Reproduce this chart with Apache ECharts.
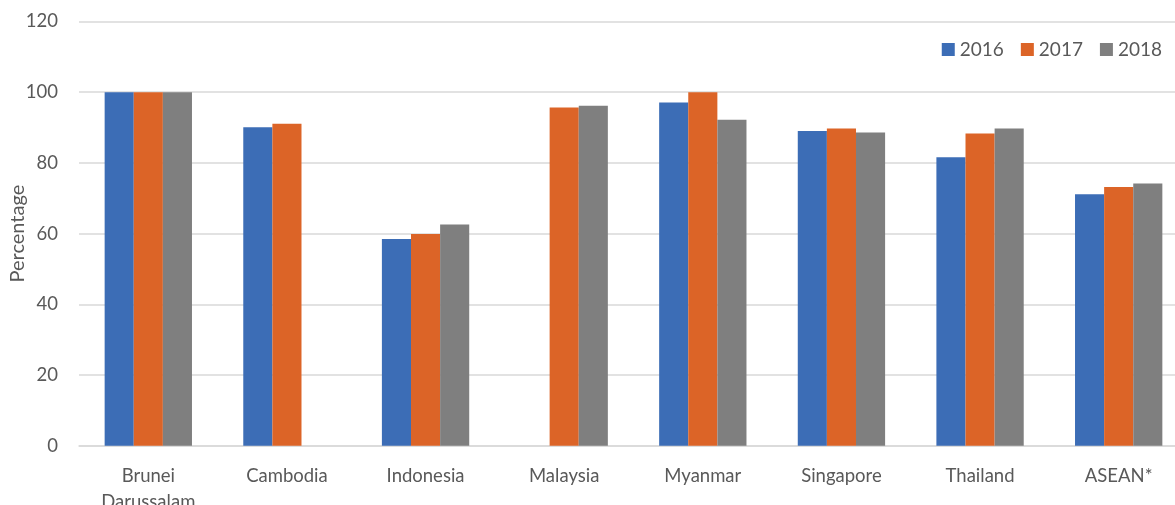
<!DOCTYPE html>
<html>
<head>
<meta charset="utf-8">
<script src="https://cdn.jsdelivr.net/npm/echarts@6/dist/echarts.min.js"></script>
<style>
  html, body { margin: 0; padding: 0; background: #fff; }
  #chart { width: 1175px; height: 505px; }
</style>
</head>
<body>
<div id="chart"></div>
<script>
// data
const countries = ['Brunei\nDarussalam', 'Cambodia', 'Indonesia', 'Malaysia', 'Myanmar', 'Singapore', 'Thailand', 'ASEAN*'];
const years = ['2016', '2017', '2018'];
const v2016 = [100, 90.1, 58.5, null, 97.1, 89.0, 81.6, 71.1];
const v2017 = [100, 91.1, 59.9, 95.7, 100, 89.7, 88.3, 73.2];
const v2018 = [100, null, 62.6, 96.2, 92.2, 88.6, 89.7, 74.2];
const yTicks = [0, 20, 40, 60, 80, 100, 120];

const colors = ['#3C6DB6', '#DC6427', '#7F7F7F'];
const textColor = '#595959';
const font = 'Lato, "Open Sans", sans-serif';

const chart = echarts.init(document.getElementById('chart'));

const seriesData = [v2016, v2017, v2018];

chart.setOption({
  animation: false,
  textStyle: { fontFamily: font },
  legend: {
    data: years,
    right: 8,
    top: 35,
    itemWidth: 13,
    itemHeight: 13,
    itemGap: 17,
    icon: 'rect',
    textStyle: { color: textColor, fontSize: 19, fontFamily: font }
  },
  grid: {
    left: 79,
    top: 21.5,
    width: 1109,
    bottom: 59.3,
    containLabel: false,
    outerBoundsMode: 'none'
  },
  xAxis: {
    type: 'category',
    data: countries,
    axisTick: { show: false },
    axisLine: { lineStyle: { color: '#D9D9D9', width: 1.5 } },
    axisLabel: {
      color: textColor,
      fontSize: 18.5,
      margin: 17,
      lineHeight: 26,
      fontFamily: font
    }
  },
  yAxis: {
    type: 'value',
    min: yTicks[0],
    max: yTicks[yTicks.length - 1],
    interval: 20,
    name: 'Percentage',
    nameLocation: 'middle',
    nameGap: 51,
    nameMoveOverlap: false,
    nameTextStyle: { color: textColor, fontSize: 20, fontFamily: font },
    axisLine: { show: false },
    axisTick: { show: false },
    axisLabel: { color: textColor, fontSize: 18.5, margin: 21, fontFamily: font },
    splitLine: { lineStyle: { color: '#D9D9D9', width: 1.5 } }
  },
  series: years.map((y, i) => ({
    name: y,
    type: 'bar',
    data: seriesData[i],
    barGap: '0%',
    barCategoryGap: '37%',
    itemStyle: { color: colors[i] }
  }))
});
</script>
</body>
</html>
